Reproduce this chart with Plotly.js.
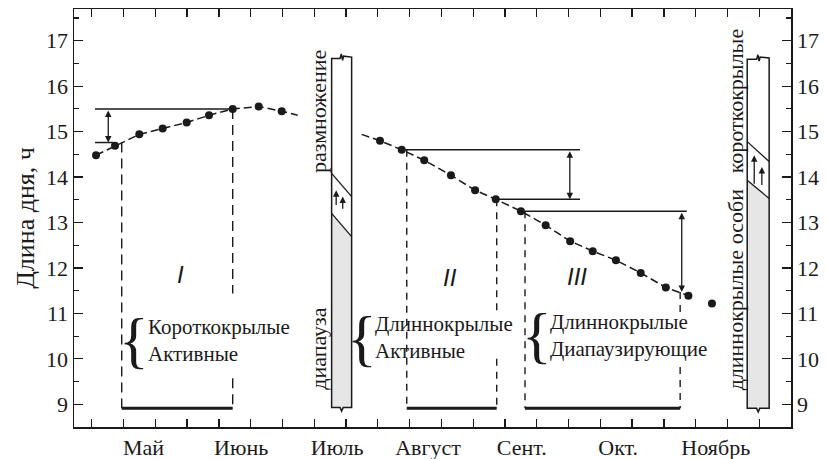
<!DOCTYPE html>
<html><head><meta charset="utf-8">
<script src="https://cdn.plot.ly/plotly-3.0.1.min.js"></script>
<style>html,body{margin:0;padding:0;background:#fff}#chart{width:826px;height:459px}</style>
</head><body><div id="chart"></div>
<script>
// x axis unit: days, a tick every 10 days
const monthLabels = ['Май','Июнь','Июль','Август','Сент.','Окт.','Ноябрь'];
const monthPos = [16.3, 47.0, 77.2, 105.8, 135.3, 165.6, 196.3];
const tickDays = [0,10,20,30,40,50,60,70,80,90,100,110,120,130,140,150,160,170,180,190,200,210];
const hourTicks = [9,10,11,12,13,14,15,16,17];
const hourMinor = [8.5,9.5,10.5,11.5,12.5,13.5,14.5,15.5,16.5,17.5];

// day length points
const springDays  = [1.35, 7.33, 14.97, 22.33, 29.88, 36.90, 44.35, 52.53, 59.77];
const springHours = [14.48, 14.69, 14.94, 15.07, 15.20, 15.36, 15.50, 15.55, 15.45];
const springTailDay = 64.8, springTailHour = 15.36;
const autumnHeadDay = 84.9, autumnHeadHour = 14.94;
const autumnDays  = [90.69, 97.52, 104.6, 113.0, 120.6, 127.1, 135.0, 142.8, 150.5, 157.6, 164.9, 172.7, 180.6, 187.7];
const autumnHours = [14.80, 14.60, 14.37, 14.04, 13.71, 13.51, 13.25, 12.94, 12.59, 12.37, 12.17, 11.89, 11.57, 11.39];
const lateDays  = [195.1];
const lateHours = [11.22];

// periods I, II, III
const periodNames  = ['I', 'II', 'III'];
const periodStart  = [9.44, 99.1, 136.3];
const periodEnd    = [44.35, 127.4, 185.1];
const periodStartTop = [14.76, 14.60, 13.25];
const periodEndTop   = [15.50, 13.51, 11.47];
const periodEndGapHi = [11.44, 11.03, 11.00];
const periodEndGapLo = [9.57, 10.00, 9.82];
const periodBase = 8.91;
const periodLabelDay  = [27.8, 112.7, 152.6];
const periodLabelHour = [11.86, 11.80, 11.82];
const groupText = ['Короткокрылые<br>Активные', 'Длиннокрылые<br>Активные', 'Длиннокрылые<br>Диапаузирующие'];
const braceDay = [13.3, 85.1, 140.1];
const groupDay = [17.1, 88.5, 143.6];
const groupHour = [10.41, 10.46, 10.52];

// threshold lines [x0, x1, y] and arrows [x, yTop, yBottom]
const refX0 = [1.04, 1.04, 97.52, 127.1, 135.0];
const refX1 = [44.35, 6.7, 153.6, 153.6, 187.2];
const refY  = [15.50, 14.76, 14.60, 13.51, 13.25];
const arrowX = [5.2, 150.4, 185.6];
const arrowTop = [15.50, 14.60, 13.25];
const arrowBottom = [14.76, 13.51, 11.47];

// columns (July and November)
const colX0 = [75.47, 206.2];
const colX1 = [81.76, 213.1];
const colTop = [16.61, 16.59];
const colBottom = [8.93, 8.91];
const colDiag1L = [14.08, 14.78], colDiag1R = [13.57, 14.34];
const colDiag2L = [13.20, 13.93], colDiag2R = [12.69, 13.53];
const colArrowX = [[76.9, 78.96], [208.4, 210.8]];
const colArrowFrom = [[13.35, 13.27], [13.82, 13.79]];
const colArrowTo = [[13.71, 13.57], [14.48, 14.22]];
const colLabels = [['размножение', 'диапауза'], ['короткокрылые', 'длиннокрылые особи']];
const colLabelDay = [71.3, 202.4];
const colLabelHour = [[15.44, 10.23], [15.67, 11.51]];

const SERIF = 'Liberation Serif, Times New Roman, serif';
const INK = '#1a1a1a';

const traces = [
  {x: springDays.concat([springTailDay]), y: springHours.concat([springTailHour]), mode: 'lines',
   line: {color: INK, width: 1.5, dash: '8px,4px'}, hoverinfo: 'skip', showlegend: false},
  {x: [autumnHeadDay].concat(autumnDays), y: [autumnHeadHour].concat(autumnHours), mode: 'lines',
   line: {color: INK, width: 1.5, dash: '8px,4px'}, hoverinfo: 'skip', showlegend: false},
  {x: springDays.concat(autumnDays, lateDays), y: springHours.concat(autumnHours, lateHours), mode: 'markers',
   marker: {color: INK, size: 8}, hoverinfo: 'skip', showlegend: false},
  {x: [null], y: [null], yaxis: 'y2', mode: 'markers', hoverinfo: 'skip', showlegend: false}
];

const shapes = [];
const annotations = [];
function line(x0, y0, x1, y1, width, dash) {
  shapes.push({type: 'line', xref: 'x', yref: 'y', x0, y0, x1, y1,
    line: {color: INK, width: width, dash: dash || 'solid'}});
}
function arrow(x, y0, x1, y1, both) {
  annotations.push({x: x1, y: y1, ax: x, ay: y0, xref: 'x', yref: 'y', axref: 'x', ayref: 'y',
    text: '', showarrow: true, arrowhead: 2, startarrowhead: 2, arrowsize: 1, startarrowsize: 1,
    arrowwidth: 1.3, arrowcolor: INK, arrowside: both ? 'end+start' : 'end', standoff: 0, startstandoff: 0});
}

// columns
for (let i = 0; i < 2; i++) {
  const a = colX0[i], b = colX1[i], m = (a + b) / 2, t = colTop[i], bt = colBottom[i];
  shapes.push({type: 'path', xref: 'x', yref: 'y', layer: 'below',
    path: `M${a},${colDiag2L[i]} L${b},${colDiag2R[i]} L${b},${bt} L${m+0.5},${bt} L${m},${bt-0.08} L${m-0.5},${bt} L${a},${bt} Z`,
    fillcolor: '#e6e6e6', line: {width: 0}});
  shapes.push({type: 'path', xref: 'x', yref: 'y',
    path: `M${a},${bt} L${a},${t} L${m-0.5},${t} L${m-0.1},${t+0.1} L${m+0.3},${t-0.04} L${m+0.6},${t+0.05} L${b},${t+0.03} L${b},${bt} L${m+0.5},${bt} L${m},${bt-0.08} L${m-0.5},${bt} Z`,
    line: {color: INK, width: 1.5}});
  line(a, colDiag1L[i], b, colDiag1R[i], 1.3);
  line(a, colDiag2L[i], b, colDiag2R[i], 1.3);
  for (let k = 0; k < 2; k++) arrow(colArrowX[i][k], colArrowFrom[i][k], colArrowX[i][k], colArrowTo[i][k], false);
  for (let k = 0; k < 2; k++) annotations.push({x: colLabelDay[i], y: colLabelHour[i][k], xref: 'x', yref: 'y',
    text: colLabels[i][k], textangle: -90, showarrow: false, font: {family: SERIF, size: 22, color: INK}});
}

// periods
for (let i = 0; i < 3; i++) {
  const d = i === 0 ? '10px,6px' : '7px,6px';
  line(periodStart[i], periodStartTop[i], periodStart[i], periodBase, 1.4, d);
  line(periodEnd[i], periodEndTop[i], periodEnd[i], periodEndGapHi[i], 1.4, d);
  line(periodEnd[i], periodEndGapLo[i], periodEnd[i], periodBase, 1.4, d);
  line(periodStart[i], periodBase, periodEnd[i], periodBase, 3);
  annotations.push({x: periodLabelDay[i], y: periodLabelHour[i], xref: 'x', yref: 'y', showarrow: false,
    text: '<i>' + periodNames[i] + '</i>', font: {family: 'Liberation Sans, Arial, sans-serif', size: 24, color: INK}});
  annotations.push({x: braceDay[i], y: groupHour[i], xref: 'x', yref: 'y', showarrow: false,
    text: '{', font: {family: SERIF, size: 62, color: INK}});
  annotations.push({x: groupDay[i], y: groupHour[i], xref: 'x', yref: 'y', showarrow: false,
    xanchor: 'left', yanchor: 'middle', align: 'left',
    text: groupText[i], font: {family: SERIF, size: 21, color: INK}});
}

// threshold lines and arrows
for (let i = 0; i < refY.length; i++) line(refX0[i], refY[i], refX1[i], refY[i], 1.5);
for (let i = 0; i < arrowX.length; i++) arrow(arrowX[i], arrowTop[i], arrowX[i], arrowBottom[i], true);

const yCommon = {
  range: [8.50, 17.698], tickmode: 'array', tickvals: hourTicks, ticks: 'inside', ticklen: 9,
  tickwidth: 1.3, tickcolor: INK, showline: true, linecolor: INK, linewidth: 1.5,
  showgrid: false, zeroline: false, tickfont: {family: SERIF, size: 22, color: INK},
  minor: {tickmode: 'array', tickvals: hourMinor, ticks: 'inside', ticklen: 5, tickwidth: 1.2, tickcolor: INK}
};

const layout = {
  width: 826, height: 459, autosize: false,
  margin: {l: 74, r: 35, t: 9, b: 32},
  paper_bgcolor: '#fff', plot_bgcolor: '#fff',
  showlegend: false,
  xaxis: {
    range: [-5.57, 219.97], tickmode: 'array', tickvals: monthPos, ticktext: monthLabels,
    ticks: '', showline: true, linecolor: INK, linewidth: 1.5, mirror: 'allticks',
    showgrid: false, zeroline: false, tickfont: {family: SERIF, size: 22, color: INK},
    ticklabelstandoff: 0,
    minor: {tickmode: 'array', tickvals: tickDays, ticks: 'inside', ticklen: 8, tickwidth: 1.3, tickcolor: INK}
  },
  yaxis: Object.assign({}, yCommon, {side: 'left', mirror: false,
    title: {text: 'Длина дня, ч', font: {family: SERIF, size: 26, color: INK}, standoff: 4}}),
  yaxis2: Object.assign({}, yCommon, {side: 'right', overlaying: 'y', anchor: 'x'}),
  shapes: shapes,
  annotations: annotations
};

Plotly.newPlot('chart', traces, layout, {staticPlot: true, displayModeBar: false});
</script>
</body></html>
